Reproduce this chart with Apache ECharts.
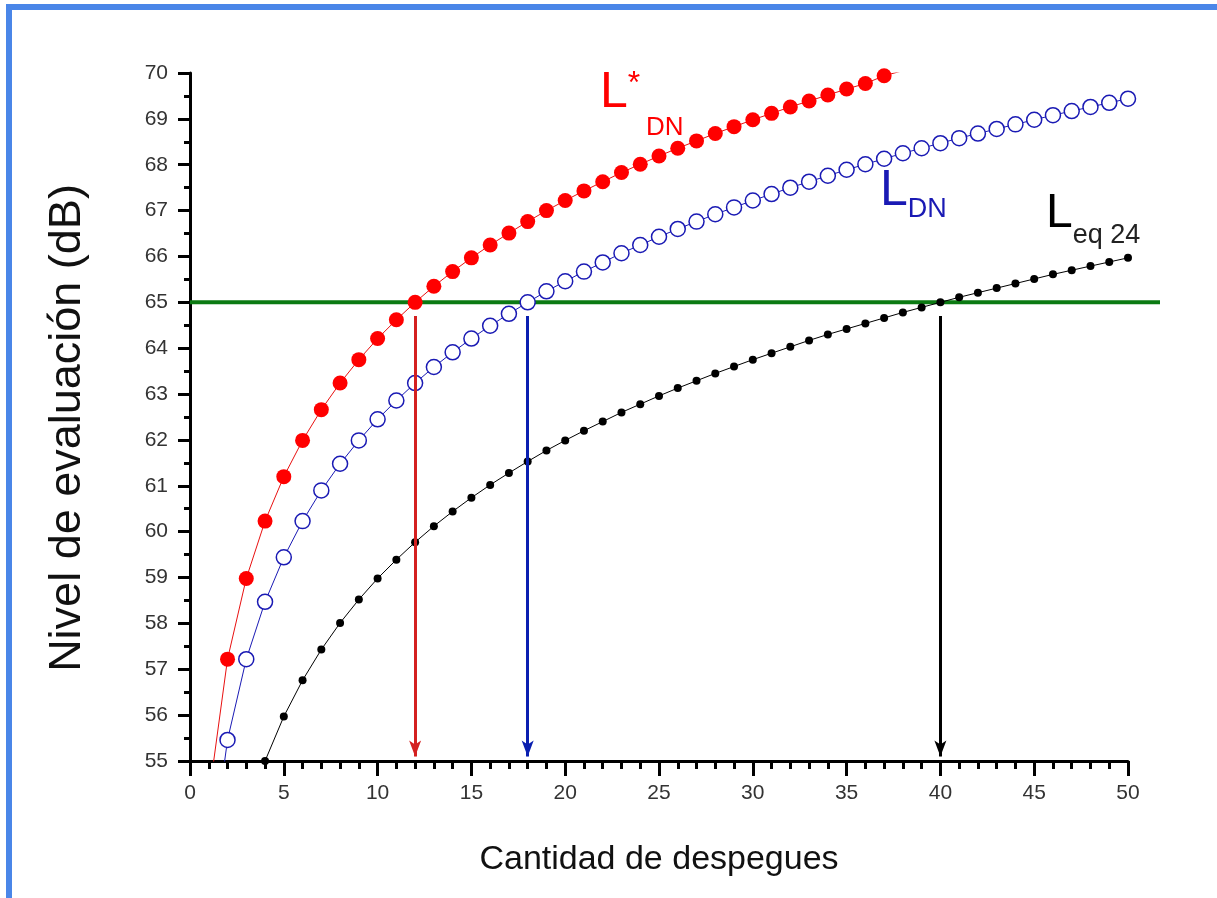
<!DOCTYPE html>
<html>
<head>
<meta charset="utf-8">
<title>Nivel de evaluación</title>
<script src="https://cdn.jsdelivr.net/npm/echarts@6/dist/echarts.min.js"></script>
<style>
  html, body { margin: 0; padding: 0; background: #fff; }
  #chart { width: 1217px; height: 898px; }
</style>
</head>
<body>
<div id="chart"></div>
<script>
// L*DN, first point at 1 despegue
var ldnStarStart = 1;
var ldnStar = [54.21, 57.22, 58.98, 60.23, 61.20, 61.99, 62.66, 63.24, 63.75, 64.21,
  64.62, 65.00, 65.35, 65.67, 65.97, 66.25, 66.51, 66.76, 67.00, 67.22,
  67.43, 67.63, 67.83, 68.01, 68.19, 68.36, 68.52, 68.68, 68.83, 68.98,
  69.12, 69.26, 69.39, 69.52, 69.65, 69.77, 69.94, 70.05];

// LDN
var ldnStart = 1;
var ldn = [52.45, 55.46, 57.22, 58.47, 59.44, 60.23, 60.90, 61.48, 61.99, 62.45,
  62.86, 63.24, 63.59, 63.91, 64.21, 64.49, 64.75, 65.00, 65.24, 65.46,
  65.67, 65.87, 66.07, 66.25, 66.43, 66.60, 66.76, 66.92, 67.07, 67.22,
  67.36, 67.50, 67.63, 67.76, 67.89, 68.01, 68.13, 68.25, 68.36, 68.47,
  68.58, 68.68, 68.78, 68.88, 68.98, 69.08, 69.17, 69.26, 69.35, 69.44];

// Leq 24
var leqStart = 3;
var leq = [53.75, 55.00, 55.97, 56.76, 57.43, 58.01, 58.52, 58.98, 59.39, 59.77,
  60.12, 60.44, 60.74, 61.02, 61.28, 61.53, 61.77, 61.99, 62.20, 62.40,
  62.60, 62.78, 62.96, 63.13, 63.29, 63.45, 63.60, 63.75, 63.89, 64.03,
  64.17, 64.30, 64.42, 64.54, 64.66, 64.78, 64.89, 65.00, 65.11, 65.21,
  65.31, 65.41, 65.51, 65.61, 65.70, 65.79, 65.88, 65.97];

// límite 65 dB y cantidades donde cada curva lo alcanza
var limite = 65;
var limiteHasta = 51.7;
var cruces = [12, 18, 40];
var flechaDesde = 64.7;
var flechaHasta = 55.1;

function pares(start, vals) {
  return vals.map(function (v, i) { return [start + i, v]; });
}

var myChart = echarts.init(document.getElementById('chart'));
var fuente = 'Liberation Sans, Arial, sans-serif';

function flecha(x, color) {
  return {
    silent: true,
    symbol: ['none', 'arrow'],
    symbolSize: [9, 16],
    label: { show: false },
    lineStyle: { color: color, width: 3, type: 'solid' },
    data: [[{ coord: [x, flechaDesde] }, { coord: [x, flechaHasta] }]]
  };
}

var options = {
  backgroundColor: '#fff',
  animation: false,
  grid: [
    { left: 190, top: 73, right: 89, bottom: 137 },
    // la línea verde sobrepasa el eje x
    { left: 190, top: 73, right: 57, bottom: 137 }
  ],
  xAxis: [{
    type: 'value',
    min: 0, max: 50, interval: 5,
    name: 'Cantidad de despegues',
    nameLocation: 'middle',
    nameGap: 82,
    nameTextStyle: { fontFamily: fuente, fontSize: 34, color: '#111' },
    axisLine: { show: true, onZero: false, lineStyle: { color: '#000', width: 3 } },
    axisTick: { show: true, length: 15, lineStyle: { color: '#000', width: 3 } },
    minorTick: { show: true, splitNumber: 5, length: 8, lineStyle: { color: '#000', width: 3 } },
    axisLabel: { margin: 22, fontFamily: fuente, fontSize: 21, color: '#333' },
    splitLine: { show: false }
  }, {
    type: 'value', gridIndex: 1, show: false,
    min: 0, max: limiteHasta
  }],
  yAxis: [{
    type: 'value',
    min: 55, max: 70, interval: 1,
    name: 'Nivel de evaluación (dB)',
    nameLocation: 'middle',
    nameGap: 100,
    nameTextStyle: { fontFamily: fuente, fontSize: 45, color: '#111', padding: [0, 22, 0, 0] },
    axisLine: { show: true, onZero: false, lineStyle: { color: '#000', width: 3 } },
    axisTick: { show: true, length: 12, lineStyle: { color: '#000', width: 3 } },
    minorTick: { show: true, splitNumber: 2, length: 6, lineStyle: { color: '#000', width: 3 } },
    axisLabel: { margin: 22, fontFamily: fuente, fontSize: 21, color: '#333' },
    splitLine: { show: false }
  }, {
    type: 'value', gridIndex: 1, show: false,
    min: 55, max: 70
  }],
  series: [
    {
      name: 'límite',
      type: 'line',
      xAxisIndex: 1,
      yAxisIndex: 1,
      silent: true,
      symbol: 'none',
      z: 1,
      lineStyle: { color: '#0b7a12', width: 4 },
      data: [[0, limite], [limiteHasta, limite]]
    },
    {
      name: 'Leq 24',
      type: 'line',
      symbol: 'circle',
      symbolSize: 8,
      z: 3,
      itemStyle: { color: '#000' },
      lineStyle: { color: '#000', width: 1 },
      data: pares(leqStart, leq),
      markLine: flecha(cruces[2], '#000')
    },
    {
      name: 'LDN',
      type: 'line',
      symbol: 'circle',
      symbolSize: 15,
      z: 3,
      itemStyle: { color: '#fff', borderColor: '#1a1ab4', borderWidth: 1.5 },
      lineStyle: { color: '#1a1ab4', width: 1 },
      data: pares(ldnStart, ldn),
      markLine: flecha(cruces[1], '#0a1fb0')
    },
    {
      name: 'L*DN',
      type: 'line',
      symbol: 'circle',
      symbolSize: 15,
      z: 3,
      itemStyle: { color: '#ff0000' },
      lineStyle: { color: '#e81010', width: 1 },
      data: pares(ldnStarStart, ldnStar),
      markLine: flecha(cruces[0], '#d42020')
    }
  ],
  graphic: [
    { type: 'rect', shape: { x: 6, y: 4, width: 1211, height: 6 }, style: { fill: '#4a86e8' } },
    { type: 'rect', shape: { x: 6, y: 4, width: 6, height: 894 }, style: { fill: '#4a86e8' } },
    {
      type: 'text', left: 600, top: 68,
      style: {
        text: '{l|L}{s|*}\n{d|DN}',
        rich: {
          l: { fontFamily: fuente, fontSize: 50, fill: '#f00', lineHeight: 50 },
          s: { fontFamily: fuente, fontSize: 32, fill: '#f00', verticalAlign: 'top', lineHeight: 50 },
          d: { fontFamily: fuente, fontSize: 26, fill: '#f00', padding: [0, 0, 0, 46], lineHeight: 20 }
        }
      }
    },
    {
      type: 'text', left: 880, top: 166,
      style: {
        text: '{l|L}{d|DN}',
        rich: {
          l: { fontFamily: fuente, fontSize: 50, fill: '#1a1ab4' },
          d: { fontFamily: fuente, fontSize: 27, fill: '#1a1ab4', padding: [38, 0, 0, 0] }
        }
      }
    },
    {
      type: 'text', left: 1046, top: 190,
      style: {
        text: '{l|L}{d|eq 24}',
        rich: {
          l: { fontFamily: fuente, fontSize: 48, fill: '#000' },
          d: { fontFamily: fuente, fontSize: 27, fill: '#222', padding: [44, 0, 0, 0] }
        }
      }
    }
  ]
};

myChart.setOption(options);
window.addEventListener('resize', function () {
  myChart.resize();
});
</script>
</body>
</html>
